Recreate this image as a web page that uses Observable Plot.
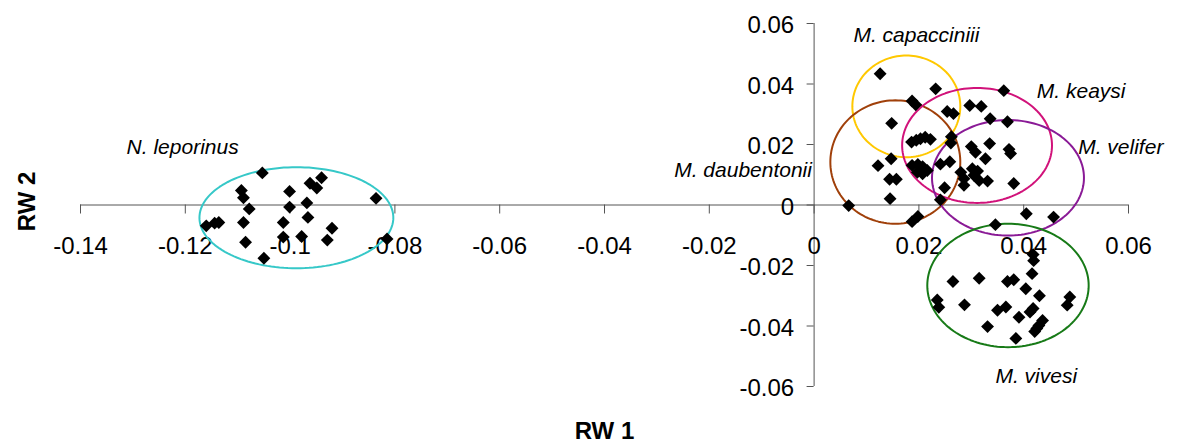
<!DOCTYPE html>
<html>
<head>
<meta charset="utf-8">
<script src="https://cdn.jsdelivr.net/npm/d3@7"></script>
<script src="https://cdn.jsdelivr.net/npm/@observablehq/plot@0.6"></script>
<style>
  html, body { margin: 0; padding: 0; background: #fff; }
  #chart svg { display: block; }
</style>
</head>
<body>
<div id="chart"></div>
<script>
// Axis ticks and their printed labels
const xTicks = [-0.14, -0.12, -0.1, -0.08, -0.06, -0.04, -0.02, 0, 0.02, 0.04, 0.06];
const xTickLabels = ["-0.14", "-0.12", "-0.1", "-0.08", "-0.06", "-0.04", "-0.02", "0", "0.02", "0.04", "0.06"];
const yTicks = [0.06, 0.04, 0.02, 0, -0.02, -0.04, -0.06];
const yTickLabels = ["0.06", "0.04", "0.02", "0", "-0.02", "-0.04", "-0.06"];

// Relative-warp scores (RW1, RW2) of the specimens
const leporinusRW1 = [-0.1053, -0.1093, -0.1089, -0.1078, -0.1001, -0.1001, -0.0962, -0.0949, -0.0940, -0.0968, -0.0966, -0.0836,
                      -0.1160, -0.1144, -0.1136, -0.1089, -0.1013, -0.1013, -0.0978, -0.0920, -0.0929, -0.1085, -0.1050, -0.0815];
const leporinusRW2 = [0.0106, 0.0048, 0.0024, -0.0013, 0.0045, -0.0007, 0.0072, 0.0056, 0.0090, 0.0007, -0.0041, 0.0022,
                      -0.0069, -0.0060, -0.0058, -0.0058, -0.0058, -0.0106, -0.0104, -0.0077, -0.0116, -0.0123, -0.0176, -0.0112];

const myotisRW1 = [0.0126, 0.0232, 0.0187, 0.0194, 0.0254, 0.0266, 0.0148, 0.0297, 0.0319, 0.0362, 0.0336, 0.0369,
                   0.0186, 0.0195, 0.0203, 0.0212, 0.0222, 0.0261, 0.0262, 0.0300, 0.0308, 0.0335, 0.0327, 0.0372,
                   0.0375, 0.0147, 0.0122, 0.0187, 0.0198, 0.0207, 0.0197, 0.0207, 0.0216, 0.0241, 0.0259, 0.0302,
                   0.0312, 0.0305, 0.0280, 0.0286, 0.0286, 0.0331, 0.0315, 0.0381, 0.0144, 0.0157, 0.0249, 0.0145,
                   0.0066, 0.0241, 0.0198, 0.0187, 0.0405, 0.0457, 0.0346];
const myotisRW2 = [0.0434, 0.0384, 0.0344, 0.0331, 0.0309, 0.0302, 0.0270, 0.0329, 0.0326, 0.0378, 0.0285, 0.0275,
                   0.0208, 0.0214, 0.0219, 0.0224, 0.0217, 0.0205, 0.0226, 0.0193, 0.0174, 0.0203, 0.0153, 0.0184,
                   0.0170, 0.0153, 0.0130, 0.0131, 0.0134, 0.0127, 0.0108, 0.0103, 0.0114, 0.0135, 0.0143, 0.0120,
                   0.0112, 0.0098, 0.0108, 0.0087, 0.0065, 0.0079, 0.0081, 0.0071, 0.0085, 0.0085, 0.0057, 0.0021,
                   -0.0002, 0.0017, -0.0038, -0.0055, -0.0029, -0.0040, -0.0065];

const vivesiRW1 = [0.0418, 0.0419, 0.0416, 0.0265, 0.0315, 0.0369, 0.0381, 0.0404, 0.0430, 0.0235, 0.0238, 0.0287,
                   0.0350, 0.0366, 0.0391, 0.0412, 0.0418, 0.0488, 0.0483, 0.0331, 0.0436, 0.0429, 0.0425, 0.0421, 0.0385];
const vivesiRW2 = [-0.0164, -0.0184, -0.0227, -0.0253, -0.0242, -0.0253, -0.0247, -0.0277, -0.0300, -0.0314, -0.0338, -0.0330,
                   -0.0348, -0.0337, -0.0371, -0.0354, -0.0342, -0.0304, -0.0331, -0.0402, -0.0382, -0.0398, -0.0408, -0.0418, -0.0441];

// Group envelopes: centre and half-axes in RW units
const groupNames = ["N. leporinus", "M. capacciniii", "M. daubentonii", "M. keaysi", "M. velifer", "M. vivesi"];
const ellipseCX = [-0.0988, 0.0176, 0.0155, 0.0311, 0.0370, 0.0370];
const ellipseCY = [-0.0042, 0.0326, 0.0142, 0.0197, 0.0090, -0.0266];
const ellipseRX = [0.0185, 0.0103, 0.0124, 0.0143, 0.0145, 0.0154];
const ellipseRY = [0.0167, 0.0168, 0.0204, 0.0190, 0.0191, 0.0204];

// Styling
const groupColors = {
  "N. leporinus": "#36c8c8",
  "M. capacciniii": "#ffc800",
  "M. daubentonii": "#a0400a",
  "M. keaysi": "#d1127a",
  "M. velifer": "#8a1a96",
  "M. vivesi": "#177a17"
};
const axisColor = "#555";
const fontFamily = "'Liberation Sans', Arial, Helvetica, sans-serif";

// Where each group name is written (RW coordinates, text starts at x)
const groupLabelX = [-0.1312, 0.0075, -0.0267, 0.0425, 0.0504, 0.0346];
const groupLabelY = [0.0191, 0.0560, 0.0115, 0.0377, 0.0191, -0.0565];

const points = [
  ...leporinusRW1.map((x, i) => ({rw1: x, rw2: leporinusRW2[i]})),
  ...myotisRW1.map((x, i) => ({rw1: x, rw2: myotisRW2[i]})),
  ...vivesiRW1.map((x, i) => ({rw1: x, rw2: vivesiRW2[i]}))
];

const ellipseOutline = (cx, cy, rx, ry) =>
  d3.range(0, 145).map(k => {
    const t = (k / 144) * 2 * Math.PI;
    return {x: cx + rx * Math.cos(t), y: cy + ry * Math.sin(t)};
  });

const ellipseMarks = groupNames.map((name, i) =>
  Plot.line(ellipseOutline(ellipseCX[i], ellipseCY[i], ellipseRX[i], ellipseRY[i]), {
    x: "x", y: "y", stroke: groupColors[name], strokeWidth: 2
  })
);

const labels = groupNames.map((name, i) => ({name, x: groupLabelX[i], y: groupLabelY[i]}));

const xTickLen = 9 / 3025;   // tick length in RW2 units (about 9px)
const yTickLen = 7 / 5240;   // tick length in RW1 units (about 7px)

const chart = Plot.plot({
  width: 1177,
  height: 445,
  marginLeft: 80,
  marginRight: 49,
  marginTop: 23,
  marginBottom: 59,
  x: {domain: [-0.14, 0.06], axis: null},
  y: {domain: [-0.06, 0.06], axis: null},
  style: {background: "white", fontFamily, color: "#000"},
  marks: [
    // axes crossing at the origin
    Plot.ruleY([0], {x1: -0.14, x2: 0.06, stroke: axisColor, strokeWidth: 1}),
    Plot.ruleX([0], {y1: -0.06, y2: 0.06, stroke: axisColor, strokeWidth: 1}),
    Plot.ruleX(xTicks, {x: d => d, y1: 0, y2: -xTickLen, stroke: axisColor, strokeWidth: 1}),
    Plot.ruleY(yTicks, {y: d => d, x1: -yTickLen, x2: 0, stroke: axisColor, strokeWidth: 1}),
    Plot.text(xTicks, {x: d => d, y: 0, text: (d, i) => xTickLabels[i], dy: 41, fontSize: 24, fill: "#000"}),
    Plot.text(yTicks, {x: 0, y: d => d, text: (d, i) => yTickLabels[i], textAnchor: "end", dx: -20, dy: 2, fontSize: 24, fill: "#000"}),
    // axis titles
    Plot.text(["RW 1"], {x: () => -0.04, y: () => -0.06, text: d => d, dy: 45, fontSize: 24, fontWeight: "bold", fill: "#000"}),
    Plot.text(["RW 2"], {x: () => -0.14, y: () => 0.0012, text: d => d, rotate: -90, dx: -53, fontSize: 24, fontWeight: "bold", fill: "#000"}),
    // group names
    Plot.text(labels, {x: "x", y: "y", text: "name", textAnchor: "start", fontSize: 21, fontStyle: "italic", fill: "#000"}),
    // group envelopes
    ...ellipseMarks,
    // specimens
    Plot.dot(points, {x: "rw1", y: "rw2", symbol: "diamond2", r: 5.8, fill: "#000", stroke: "none"})
  ]
});

document.getElementById("chart").appendChild(chart);
</script>
</body>
</html>
